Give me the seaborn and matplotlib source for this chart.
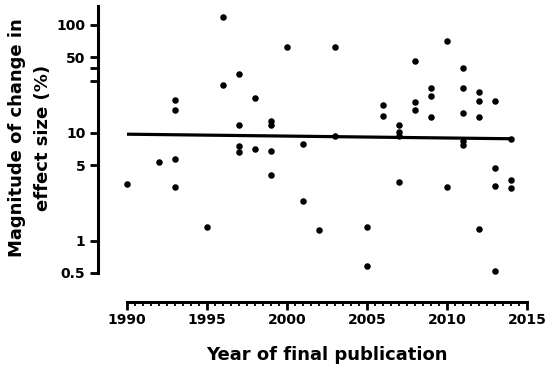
import numpy as np
import pandas as pd
import matplotlib
matplotlib.use("Agg")
import matplotlib.pyplot as plt
import seaborn as sns
from matplotlib.ticker import FixedLocator, MultipleLocator, NullFormatter

# ---- data ----
years = [1990, 1992, 1993, 1993, 1993, 1993, 1995, 1996, 1996,
         1997, 1997, 1997, 1997, 1998, 1998, 1999, 1999, 1999, 1999,
         2000, 2001, 2001, 2002, 2003, 2003, 2005, 2005, 2006, 2006,
         2007, 2007, 2007, 2007, 2008, 2008, 2008, 2009, 2009, 2009,
         2010, 2010, 2011, 2011, 2011, 2011, 2011,
         2012, 2012, 2012, 2012, 2013, 2013, 2013, 2013, 2014, 2014, 2014]
values = [3.35, 5.35, 20.2, 16.2, 5.71, 3.12, 1.34, 118, 28.0,
          35.4, 11.9, 7.47, 6.67, 20.8, 7.06, 12.8, 11.8, 6.81, 4.09,
          62.2, 7.8, 2.33, 1.26, 62.2, 9.32, 1.33, 0.578, 18.05, 14.2,
          11.8, 10.15, 9.25, 3.52, 46.7, 19.4, 16.2, 25.9, 22.0, 13.9,
          71.5, 3.14, 40.2, 25.9, 15.2, 8.3, 7.7,
          23.8, 19.7, 13.9, 1.28, 19.7, 4.74, 3.18, 0.52, 8.74, 3.62, 3.05]
fit_years = [1990, 2014]
fit_values = [9.7, 8.8]
x_ticks = [1990, 1995, 2000, 2005, 2010, 2015]
y_ticks = [0.5, 1, 5, 10, 50, 100]
y_tick_labels = ["0.5", "1", "5", "10", "50", "100"]
y_minor_ticks = [30, 40]
x_label = "Year of final publication"
y_label = "Magnitude of change in\neffect size (%)"

df = pd.DataFrame({"year": years, "value": values})
fit = pd.DataFrame({"year": fit_years, "value": fit_values})

sns.set_style("ticks")
plt.rcParams["font.family"] = ["DejaVu Sans"]
plt.rcParams["font.weight"] = "bold"
plt.rcParams["text.color"] = "black"
plt.rcParams["axes.labelcolor"] = "black"

fig = plt.figure(figsize=(5.45, 3.71), dpi=100)
W, H = 545, 371
ax = fig.add_axes([127 / W, 1 - 273 / H, 400 / W, 267 / H])

sns.lineplot(data=fit, x="year", y="value", ax=ax, color="black",
             linewidth=2.3, zorder=2)
sns.scatterplot(data=df, x="year", y="value", ax=ax, color="black",
                s=22, linewidth=0, zorder=3, clip_on=False)

ax.set_yscale("log")
ax.set_xlim(1990, 2015)
ax.set_ylim(0.5, 150)

ax.yaxis.set_major_locator(FixedLocator(y_ticks))
ax.set_yticklabels(y_tick_labels)
ax.yaxis.set_minor_locator(FixedLocator(y_minor_ticks))
ax.yaxis.set_minor_formatter(NullFormatter())

ax.xaxis.set_major_locator(FixedLocator(x_ticks))
ax.set_xticklabels([str(t) for t in x_ticks])
ax.xaxis.set_minor_locator(MultipleLocator(0.5))

for s in ["top", "right"]:
    ax.spines[s].set_visible(False)
for s in ["left", "bottom"]:
    ax.spines[s].set_linewidth(2.2)
    ax.spines[s].set_color("black")
ax.spines["left"].set_position(("outward", 21))
ax.spines["bottom"].set_position(("outward", 21))

ax.tick_params(axis="both", which="major", width=2.0, color="black",
               labelsize=10, labelcolor="black")
ax.tick_params(axis="y", which="major", length=6, pad=3)
ax.tick_params(axis="y", which="minor", length=6, width=2.0, color="black")
ax.tick_params(axis="x", which="major", length=5.5, pad=2)
ax.tick_params(axis="x", which="minor", length=3, width=1.3, color="black")
for lab in ax.get_xticklabels() + ax.get_yticklabels():
    lab.set_fontweight("bold")

ax.set_xlabel(x_label, fontsize=13, fontweight="bold", va="center",
              color="black")
ax.xaxis.set_label_coords(0.5, (273 - 355) / 267)
ax.set_ylabel(y_label, fontsize=13, fontweight="bold", va="center",
              ha="center", linespacing=1.55, multialignment="center",
              color="black")
ax.yaxis.set_label_coords((30 - 127) / 400, (273 - 138) / 267)

ax.set_facecolor("white")
fig.patch.set_facecolor("white")
fig.savefig("out.png", dpi=100)
